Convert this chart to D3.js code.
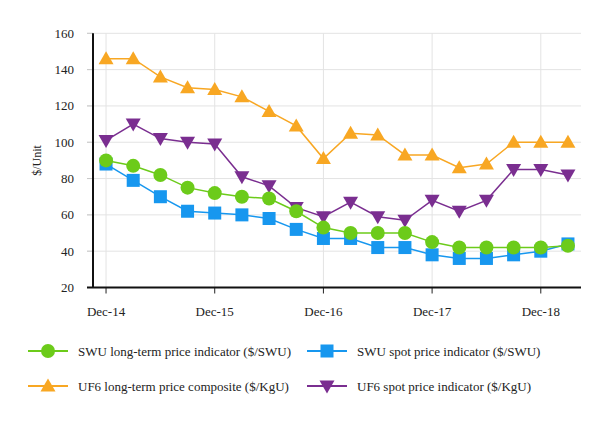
<!DOCTYPE html>
<html>
<head>
<meta charset="utf-8">
<script src="https://cdn.jsdelivr.net/npm/d3@7"></script>
<style>
  html, body { margin: 0; padding: 0; background: #fff; font-family: "Liberation Serif", serif; }
  svg { display: block; }
</style>
</head>
<body>
<svg id="chart" width="614" height="422" font-family="Liberation Serif, serif"></svg>
<script>
// ---- data ----
const quarters = ["Dec-14","Mar-15","Jun-15","Sep-15","Dec-15","Mar-16","Jun-16","Sep-16","Dec-16",
                  "Mar-17","Jun-17","Sep-17","Dec-17","Mar-18","Jun-18","Sep-18","Dec-18","Mar-19"];
const tickLabels = ["Dec-14","Dec-15","Dec-16","Dec-17","Dec-18"];
const yTicks = [20, 40, 60, 80, 100, 120, 140, 160];
const swuLongTerm = [90, 87, 82, 75, 72, 70, 69, 62, 53, 50, 50, 50, 45, 42, 42, 42, 42, 43];
const swuSpot     = [88, 79, 70, 62, 61, 60, 58, 52, 47, 47, 42, 42, 38, 36, 36, 38, 40, 44];
const uf6LongTerm = [146, 146, 136, 130, 129, 125, 117, 109, 91, 105, 104, 93, 93, 86, 88, 100, 100, 100];
const uf6Spot     = [101, 110, 102, 100, 99, 81, 76, 64, 59, 67, 59, 57, 68, 62, 68, 85, 85, 82];
const seriesNames = ["SWU long-term price indicator ($/SWU)", "SWU spot price indicator ($/SWU)",
                     "UF6 long-term price composite ($/KgU)", "UF6 spot price indicator ($/KgU)"];

const series = [
  { name: seriesNames[0], values: swuLongTerm, color: "#6ccb1a", shape: "circle" },
  { name: seriesNames[1], values: swuSpot,     color: "#1797ef", shape: "square" },
  { name: seriesNames[2], values: uf6LongTerm, color: "#f8a723", shape: "up" },
  { name: seriesNames[3], values: uf6Spot,     color: "#7a2e90", shape: "down" }
];

const FONT = "'Liberation Serif', 'Times New Roman', serif";
const svg = d3.select("#chart");
const L = 93, R = 581, T = 33.3, B = 287.5;
const x = d3.scaleLinear().domain([-0.48, quarters.length - 1 + 0.48]).range([L, R]);
const y = d3.scaleLinear().domain([20, 160]).range([B, T]);

// horizontal grid
svg.append("g").selectAll("line").data(yTicks).join("line")
  .attr("x1", L - 6).attr("x2", R)
  .attr("y1", d => y(d)).attr("y2", d => y(d))
  .attr("stroke", "#e3e3e3").attr("stroke-width", 1);
// y tick marks
svg.append("g").selectAll("line").data(yTicks).join("line")
  .attr("x1", L - 6).attr("x2", L)
  .attr("y1", d => y(d)).attr("y2", d => y(d))
  .attr("stroke", "#c8c8c8").attr("stroke-width", 1);
// vertical grid
svg.append("g").selectAll("line").data(tickLabels).join("line")
  .attr("x1", d => x(quarters.indexOf(d))).attr("x2", d => x(quarters.indexOf(d)))
  .attr("y1", T).attr("y2", B)
  .attr("stroke", "#e3e3e3").attr("stroke-width", 1);

// y tick labels
svg.append("g").selectAll("text").data(yTicks).join("text")
  .attr("x", 74).attr("y", d => y(d)).attr("dy", "0.35em")
  .attr("text-anchor", "end").attr("font-size", 13).attr("fill", "#222")
  .style("font-family", FONT)
  .text(d => d);

// x ticks + labels
const xt = svg.append("g");
xt.selectAll("line").data(tickLabels).join("line")
  .attr("x1", d => x(quarters.indexOf(d))).attr("x2", d => x(quarters.indexOf(d)))
  .attr("y1", B).attr("y2", B + 6).attr("stroke", "#222").attr("stroke-width", 1);
xt.selectAll("text").data(tickLabels).join("text")
  .attr("x", d => x(quarters.indexOf(d))).attr("y", 316)
  .attr("text-anchor", "middle").attr("font-size", 13).attr("fill", "#222")
  .style("font-family", FONT)
  .text(d => d);

// axis lines
svg.append("line").attr("x1", L).attr("x2", L).attr("y1", T).attr("y2", B)
  .attr("stroke", "#111").attr("stroke-width", 2);
svg.append("line").attr("x1", L - 6).attr("x2", R).attr("y1", B).attr("y2", B)
  .attr("stroke", "#111").attr("stroke-width", 2);

// y label
svg.append("text").attr("transform", "translate(41," + ((T + B) / 2) + ") rotate(-90)")
  .attr("text-anchor", "middle").attr("font-size", 12).attr("fill", "#222")
  .style("font-family", FONT).text("$/Unit");

function marker(g, shape, color, cx, cy) {
  if (shape === "circle") {
    g.append("circle").attr("cx", cx).attr("cy", cy).attr("r", 7).attr("fill", color);
  } else if (shape === "square") {
    g.append("rect").attr("x", cx - 6.5).attr("y", cy - 6.5).attr("width", 13).attr("height", 13).attr("fill", color);
  } else if (shape === "up") {
    g.append("path").attr("d", `M${cx},${cy - 7.5}L${cx + 7.5},${cy + 5.5}L${cx - 7.5},${cy + 5.5}Z`).attr("fill", color);
  } else {
    g.append("path").attr("d", `M${cx},${cy + 7.5}L${cx + 7.5},${cy - 5.5}L${cx - 7.5},${cy - 5.5}Z`).attr("fill", color);
  }
}

const line = d3.line().x((d, i) => x(i)).y(d => y(d));
const drawOrder = [3, 2, 1, 0];
drawOrder.forEach(k => {
  const s = series[k];
  const g = svg.append("g");
  g.append("path").attr("d", line(s.values)).attr("fill", "none")
    .attr("stroke", s.color).attr("stroke-width", 1.5);
  s.values.forEach((v, i) => marker(g, s.shape, s.color, x(i), y(v)));
});

// legend
const legendPos = [[28, 351], [307, 351], [28, 386], [307, 386]];
series.forEach((s, k) => {
  const [lx, ly] = legendPos[k];
  const g = svg.append("g");
  g.append("line").attr("x1", lx).attr("x2", lx + 40).attr("y1", ly).attr("y2", ly)
    .attr("stroke", s.color).attr("stroke-width", 2);
  marker(g, s.shape, s.color, lx + 20, ly);
  g.append("text").attr("x", lx + 50).attr("y", ly).attr("dy", "0.35em")
    .attr("font-size", 13).attr("fill", "#222")
    .style("font-family", FONT).text(s.name);
});
</script>
</body>
</html>
